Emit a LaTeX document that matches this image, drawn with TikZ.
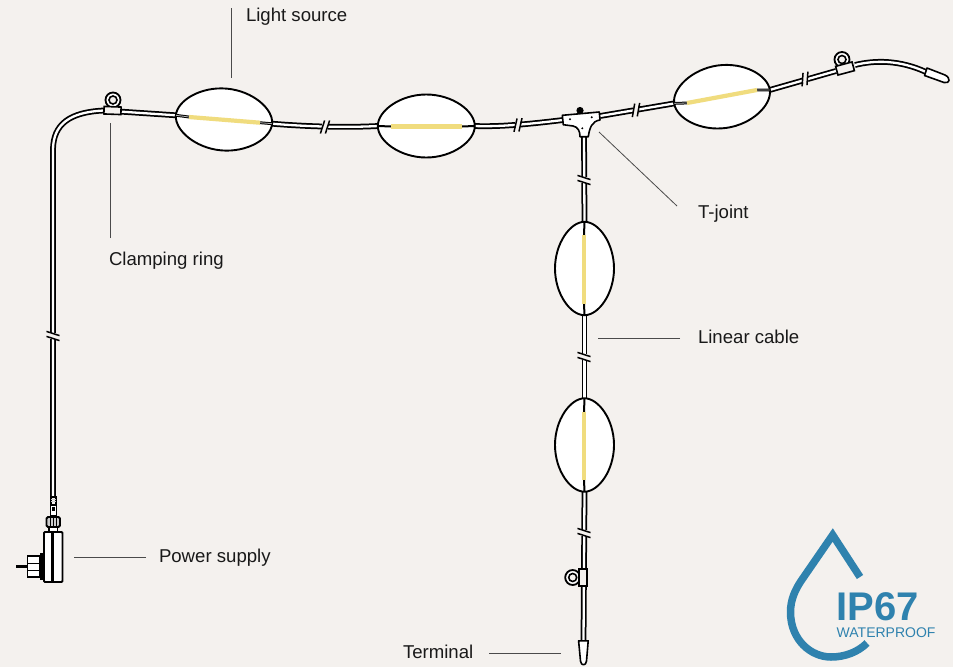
\documentclass[tikz,border=0pt]{standalone}
\usepackage{fontspec}
\setmainfont{Liberation Sans}
\usetikzlibrary{shapes.geometric,calc}
\definecolor{bgc}{HTML}{F4F1EE}
\definecolor{ledc}{HTML}{F0DC7E}
\definecolor{dropc}{HTML}{2F82AE}
\definecolor{leadc}{HTML}{4A4A4A}
\tikzset{
  x=1pt,y=-1pt,
  cable/.style={draw=black,line width=1.75pt,double=white,double distance=2.3pt},
  lamp/.style={ellipse,minimum width=96pt,minimum height=62pt,inner sep=0pt,outer sep=0pt},
  lampv/.style={ellipse,minimum width=59pt,minimum height=93pt,inner sep=0pt,outer sep=0pt},
  lampline/.style={draw=black,fill=white,line width=1.9pt},
  led/.style={draw=ledc,line width=4.2pt},
  stub/.style={draw=black,line width=1pt,double=gray!60,double distance=0.8pt},
  stubsolid/.style={draw=black,line width=2pt},
  clampbox/.style={rectangle,draw=black,fill=bgc,line width=1.6pt,inner sep=0pt},
  ringout/.style={circle,draw=black,fill=white,line width=1.8pt,minimum size=15pt,inner sep=0pt},
  ringin/.style={circle,draw=black,fill=bgc,line width=1.6pt,minimum size=8pt,inner sep=0pt},
  lead/.style={draw=leadc,line width=0.8pt},
  lbl/.style={anchor=base west,inner sep=0pt,outer sep=0pt,font=\fontsize{18.6}{20}\selectfont,text=black!90},
  part/.style={draw=black,line width=1.6pt,fill=bgc},
  slash/.style={draw=black,line width=1.5pt},
}
\newcommand{\cut}[3]{%
  \begin{scope}[shift={(#1,#2)},rotate=#3]
    \fill[bgc] (-2.6,-5) rectangle (2.6,5);
    \draw[slash] (-4.6,6.5) -- (-0.4,-6.5);
    \draw[slash] (0.4,6.5) -- (4.6,-6.5);
  \end{scope}}
% lens outline: centre x, centre y, rotation, half length, half width
\newcommand{\lens}[5]{%
  \begin{scope}[shift={(#1,#2)},rotate=#3]
    \draw[lampline] (-#4,0) .. controls (-#4,-0.48*#5) and (-0.54*#4,-#5) .. (0,-#5)
      .. controls (0.54*#4,-#5) and (#4,-0.48*#5) .. (#4,0)
      .. controls (#4,0.48*#5) and (0.54*#4,#5) .. (0,#5)
      .. controls (-0.54*#4,#5) and (-#4,0.48*#5) .. (-#4,0) -- cycle;
  \end{scope}}
\begin{document}
\begin{tikzpicture}
\fill[bgc] (0,0) rectangle (953,667);
\useasboundingbox (0,0) rectangle (953,667);

% named anchors
\coordinate (plugtop) at (53,497);
\coordinate (bend) at (104,110.5);
\node[lamp,rotate=-5] (L1) at (224,119.5) {};
\node[lamp] (L2) at (426.3,126) {};
\node[lamp,rotate=8] (L3) at (722,96.7) {};
\node[lampv] (L4) at (584.5,268.5) {};
\node[lampv] (L5) at (584.5,445) {};
\coordinate (Tl) at (563,120);
\coordinate (Tr) at (600,116);
\coordinate (Tb) at (584,136);
\coordinate (Cl) at (836,71);
\coordinate (Cr) at (855,65);
\coordinate (capr) at (926,72);
\coordinate (capv) at (583.5,641);

% cables
\draw[cable] (plugtop) -- (53,150) .. controls (53,124) and (70,112) .. (bend);
\draw[cable] (bend) -- (L1.west);
\draw[cable] (L1.east) .. controls (300,126) and (340,128) .. (L2.west);
\draw[cable] (L2.east) .. controls (500,127) and (530,124) .. (Tl);
\draw[cable] (Tr) -- (L3.west);
\draw[cable] (L3.east) -- (Cl);
\draw[cable] (Cr) .. controls (875,60) and (900,60) .. (capr);
\draw[cable] (Tb) -- (L4.north);
\draw[cable] (L4.south) -- (L5.north);
\draw[cable] (L5.south) -- (capv);

% line breaks
\cut{53}{336}{90}
\cut{325}{127}{0}
\cut{518}{125}{5}
\cut{636}{110}{8}
\cut{805}{79}{14}
\cut{584}{180}{90}
\cut{584}{357}{90}
\cut{584}{533}{90}

% lamp outlines
\lens{224}{119.5}{-5}{48.3}{31}
\lens{426.3}{126}{0}{48.5}{31.5}
\lens{722}{96.7}{8}{48.3}{31.5}
\lens{584.5}{268.5}{90}{46.7}{29.5}
\lens{584.5}{445}{90}{46.7}{29.5}
\coordinate (Y1a) at (189,117);
\coordinate (Y1b) at (260,122.7);
\coordinate (Y2a) at (391,126.5);
\coordinate (Y2b) at (462,126.5);
\coordinate (Y3a) at (687,103);
\coordinate (Y3b) at (757,90);
\coordinate (Y4a) at (584,235);
\coordinate (Y4b) at (584,304);
\coordinate (Y5a) at (584,412);
\coordinate (Y5b) at (584,480);
\draw[stub] (L1.west) -- (Y1a); \draw[stub] (Y1b) -- (L1.east);
\draw[stubsolid] (L2.west) -- (Y2a); \draw[stubsolid] (Y2b) -- (L2.east);
\draw[stub] (L3.west) -- (Y3a); \draw[stub] (Y3b) -- (L3.east);
\draw[stubsolid] (L4.north) -- (Y4a); \draw[stubsolid] (Y4b) -- (L4.south);
\draw[stubsolid] (L5.north) -- (Y5a); \draw[stubsolid] (Y5b) -- (L5.south);
\draw[led] (Y1a) -- (Y1b);
\draw[led] (Y2a) -- (Y2b);
\draw[led] (Y3a) -- (Y3b);
\draw[led] (Y4a) -- (Y4b);
\draw[led] (Y5a) -- (Y5b);

% clamps
\node[ringout] (R1) at (113,100) {};
\node[ringin] at (R1) {};
\node[clampbox,minimum width=17pt,minimum height=7.5pt,rotate=-2] (C1) at (112.5,110.5) {};
\node[ringout] (R2) at (842,59.5) {};
\node[ringin] at (R2) {};
\node[clampbox,minimum width=17pt,minimum height=9pt,rotate=15] (C2) at (845,68.5) {};
\node[ringout] (R3) at (572.7,577.5) {};
\node[ringin] at (R3) {};
\node[clampbox,minimum width=7.5pt,minimum height=17pt] (C3) at (583,577.5) {};

% T-joint
\fill[black] (580,110.5) circle (3.6);
\draw[part,line join=round,fill=white] (562.3,115.3) -- (599.3,112) -- (600,120) .. controls (592,121) and (589.5,128) .. (588.3,136.7) -- (580,136.7) .. controls (580,131) and (578,127) .. (573,126) -- (563.3,124.7) -- cycle;
\fill (570,119.3) circle (1.1);
\fill (591.7,117.3) circle (1.1);
\fill (582.3,128.3) circle (1.1);

% end caps
\draw[part,line join=round,fill=white] (927,68) -- (945,75) .. controls (951,78) and (950,84) .. (944,82.5) -- (924.5,75.5) -- cycle;
\draw[part,line join=round,fill=white] (578.6,640.8) -- (588.2,640.8) -- (586.5,661) .. controls (586,666) and (581,666) .. (580.5,661) -- cycle;

% power supply
\draw[black,line width=2.2pt] (51,497) rectangle (56,505);
\foreach \yy in {499,501.5,504} \draw[gray!40,line width=0.6pt] (51,\yy) -- (56,\yy);
\draw[part,fill=white,line width=1.4pt] (50.5,505) rectangle (56.5,516);
\fill[black] (52,507) rectangle (55,511);
\draw[part,fill=gray!40,rounded corners=1.5pt,line width=1.8pt] (46.5,517) rectangle (60,527);
\draw[black,line width=1pt] (50,517) -- (50,527) (53.2,517) -- (53.2,527) (56.5,517) -- (56.5,527);
\draw[part,fill=white,line width=1.8pt] (49,527) rectangle (57.5,532);
\draw[part,fill=white,rounded corners=1pt,line width=1.8pt] (44,532) rectangle (62.5,582);
\fill[black] (51,532) rectangle (54,582);
\fill[black] (40,553) rectangle (43.5,579.5);
\draw[part,fill=white,line width=1.6pt] (27.5,556) rectangle (40,577);
\draw[black,line width=1pt] (27.5,563) -- (40,563) (27.5,570) -- (40,570);
\draw[black,line width=2.4pt] (16,566.5) -- (28,566.5);

% labels and leaders
\node[lbl] (tLight) at (246,21) {Light source};
\node[lbl] (tClamp) at (109,265) {Clamping ring};
\node[lbl] (tTjoint) at (698,218) {T-joint};
\node[lbl] (tLinear) at (698,343) {Linear cable};
\node[lbl] (tPower) at (159,562.5) {Power supply};
\node[lbl] (tTerm) at (403,658.5) {Terminal};
\coordinate (aLight0) at (231,8);
\coordinate (aLight1) at (231,78);
\coordinate (aClamp0) at (110,238);
\coordinate (aClamp1) at (110,123);
\coordinate (aT0) at (677,206);
\coordinate (aT1) at (599,132);
\coordinate (aLin0) at (680,338);
\coordinate (aLin1) at (598,338);
\coordinate (aPow0) at (146,557);
\coordinate (aPow1) at (74,557);
\coordinate (aTer0) at (489,653);
\coordinate (aTer1) at (561,653);
\draw[lead] (aLight0) -- (aLight1);
\draw[lead] (aClamp0) -- (aClamp1);
\draw[lead] (aT0) -- (aT1);
\draw[lead] (aLin0) -- (aLin1);
\draw[lead] (aPow0) -- (aPow1);
\draw[lead] (aTer0) -- (aTer1);

% IP67 badge
\draw[dropc,line width=7.5pt,line join=miter,miter limit=10] (860,577) -- (832.7,535) -- (801,581) .. controls (795,590) and (790.5,600) .. (790.5,612) .. controls (790.5,640) and (811,657) .. (831,657) .. controls (845,657) and (858,652) .. (867,643);
\node[anchor=base west,inner sep=0pt,text=dropc,font=\fontsize{40}{42}\selectfont\bfseries,text depth=0pt] (tIP) at (836,620) {IP67};
\node[anchor=base west,inner sep=0pt,text=dropc,font=\fontsize{14}{16}\selectfont,text height=9pt] (tWP) at (836.5,637) {WATERPROOF};
\end{tikzpicture}
\end{document}
